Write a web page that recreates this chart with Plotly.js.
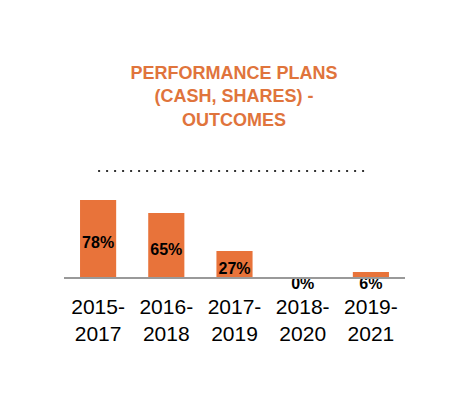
<!DOCTYPE html>
<html>
<head>
<meta charset="utf-8">
<script src="https://cdn.plot.ly/plotly-3.0.1.min.js"></script>
<style>html,body{margin:0;padding:0;background:#fff;}#chart{width:468px;height:410px;}</style>
</head>
<body>
<div id="chart"></div>
<script>
const categories = ["2015-2017", "2016-2018", "2017-2019", "2018-2020", "2019-2021"];
const tickLabels = ["2015-<br>2017", "2016-<br>2018", "2017-<br>2019", "2018-<br>2020", "2019-<br>2021"];
const outcomes = [78, 65, 27, 0, 6];
const valueLabels = ["78%", "65%", "27%", "0%", "6%"];
const referenceLevel = 107;

const orange = "#E8733A";
const labelY = outcomes.map(v => v >= 15 ? v / 2 - 5 : -7);

const data = [
  {
    type: "bar",
    x: categories,
    y: outcomes,
    width: 0.53,
    marker: {color: orange},
    hoverinfo: "skip",
    showlegend: false
  },
  {
    type: "scatter",
    mode: "text",
    x: categories,
    y: labelY,
    text: valueLabels,
    textfont: {family: "Liberation Sans, Arial, sans-serif", size: 16, color: "#000", weight: "bold"},
    cliponaxis: false,
    hoverinfo: "skip",
    showlegend: false
  }
];

const layout = {
  width: 468,
  height: 410,
  margin: {l: 64, r: 63, t: 158, b: 120},
  paper_bgcolor: "#fff",
  plot_bgcolor: "#fff",
  font: {family: "Liberation Sans, Arial, sans-serif", color: "#000"},
  title: {
    text: "<b>PERFORMANCE PLANS<br>(CASH, SHARES) -<br>OUTCOMES</b>",
    font: {size: 18, color: "#E0743C", family: "Liberation Sans, Arial, sans-serif"},
    x: 0.5,
    xanchor: "center",
    y: 0.808,
    yanchor: "top"
  },
  xaxis: {
    type: "category",
    tickvals: categories,
    ticktext: tickLabels,
    tickfont: {size: 21, color: "#000"},
    showgrid: false,
    zeroline: false,
    showline: false,
    ticks: "",
    ticklabelstandoff: 2,
    fixedrange: true
  },
  yaxis: {
    range: [-12, 120],
    visible: false,
    showgrid: false,
    zeroline: false,
    fixedrange: true
  },
  shapes: [
    {type: "line", xref: "paper", yref: "y", x0: 0, x1: 1, y0: 0, y1: 0,
     line: {color: "#999", width: 2}},
    {type: "line", xref: "x", yref: "y", x0: -0.0, x1: 3.9, y0: referenceLevel, y1: referenceLevel,
     line: {color: "#333", width: 2, dash: "2px,6px"}}
  ]
};

Plotly.newPlot("chart", data, layout, {displayModeBar: false, staticPlot: true});
</script>
</body>
</html>
